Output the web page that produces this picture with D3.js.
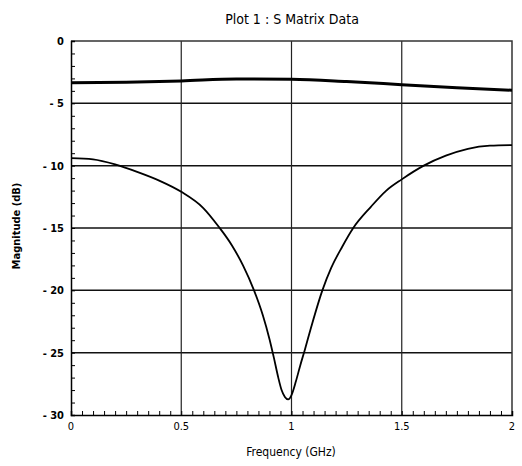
<!DOCTYPE html>
<html>
<head>
<meta charset="utf-8">
<script src="https://cdn.jsdelivr.net/npm/d3@7"></script>
<style>
  html, body { margin: 0; padding: 0; background: #fff; }
  svg { display: block; }
</style>
</head>
<body>
<script>
// S Matrix data, magnitude in dB
const freqTop = [0, 0.25, 0.5, 0.75, 1.0, 1.25, 1.5, 1.75, 2.0];
const magTop = [-3.35, -3.3, -3.2, -3.05, -3.07, -3.25, -3.5, -3.75, -3.95];

const freqDip = [0, 0.1, 0.2, 0.3, 0.4, 0.5, 0.6, 0.67, 0.73, 0.78, 0.83, 0.87, 0.9, 0.92, 0.94, 0.955, 0.97, 0.985, 1.0,
  1.02, 1.04, 1.06, 1.09, 1.14, 1.18, 1.23, 1.28, 1.36, 1.43, 1.5, 1.6, 1.7, 1.8, 1.9, 2.0];
const magDip = [-9.4, -9.5, -9.9, -10.5, -11.2, -12.1, -13.4, -14.9, -16.4, -18.0, -20.0, -22.0, -23.9, -25.4, -27.0, -28.0, -28.55, -28.75, -28.4,
  -27.3, -26.0, -24.8, -22.9, -20.0, -18.2, -16.5, -15.0, -13.3, -12.0, -11.1, -10.0, -9.2, -8.65, -8.4, -8.35];

const xTicks = [0, 0.5, 1, 1.5, 2];
const xTickLabels = ["0", "0.5", "1", "1.5", "2"];
const yTicks = [0, -5, -10, -15, -20, -25, -30];

// Dimensions and margins
const width = 522;
const height = 466;
const marginTop = 41;
const marginRight = 10;
const marginBottom = 51;
const marginLeft = 71;

const font = "'DejaVu Sans Condensed', 'Liberation Sans Narrow', sans-serif";

const svg = d3.create("svg")
  .attr("width", width)
  .attr("height", height)
  .attr("viewBox", [0, 0, width, height]);

const x = d3.scaleLinear()
  .domain([0, 2])
  .range([marginLeft, width - marginRight]);

const y = d3.scaleLinear()
  .domain([-30, 0])
  .range([height - marginBottom, marginTop]);

// Grid lines
svg.append("g")
  .selectAll("line")
  .data(yTicks.filter(d => d !== 0 && d !== -30))
  .join("line")
  .attr("x1", x(0))
  .attr("x2", x(2))
  .attr("y1", d => y(d))
  .attr("y2", d => y(d))
  .attr("stroke", "#111")
  .attr("stroke-width", 1.5);

svg.append("g")
  .selectAll("line")
  .data(xTicks.filter(d => d !== 0 && d !== 2))
  .join("line")
  .attr("x1", d => x(d))
  .attr("x2", d => x(d))
  .attr("y1", y(0))
  .attr("y2", y(-30))
  .attr("stroke", "#222")
  .attr("stroke-width", 1.2);

// Frame (top and right)
svg.append("path")
  .attr("d", `M${x(0)},${y(0)}H${x(2)}V${y(-30)}`)
  .attr("fill", "none")
  .attr("stroke", "#333")
  .attr("stroke-width", 1.5);

// Left axis with minor ticks pointing inward
const yAxis = svg.append("g")
  .attr("transform", `translate(${marginLeft},0)`)
  .call(d3.axisRight(y).ticks(30).tickSize(4).tickFormat(""));
yAxis.select(".domain").attr("stroke-width", 1.5);

svg.append("g")
  .selectAll("text")
  .data(yTicks)
  .join("text")
  .attr("x", marginLeft - 7)
  .attr("y", d => y(d) + 4)
  .attr("text-anchor", "end")
  .attr("font-family", font)
  .attr("font-size", 11)
  .attr("font-weight", "bold")
  .text(d => d === 0 ? "0" : "- " + Math.abs(d));

// Bottom axis with minor ticks pointing up
const xAxis = svg.append("g")
  .attr("transform", `translate(0,${height - marginBottom})`)
  .call(d3.axisTop(x).ticks(40).tickSize(4).tickFormat(""));
xAxis.select(".domain").attr("stroke-width", 1.5);

svg.append("g")
  .selectAll("text")
  .data(xTicks)
  .join("text")
  .attr("x", d => x(d))
  .attr("y", height - marginBottom + 15)
  .attr("text-anchor", "middle")
  .attr("font-family", font)
  .attr("font-size", 11)
  .text((d, i) => xTickLabels[i]);

// Curves
const line = d3.line()
  .x(d => x(d[0]))
  .y(d => y(d[1]))
  .curve(d3.curveMonotoneX);

svg.append("path")
  .datum(freqTop.map((f, i) => [f, magTop[i]]))
  .attr("d", line)
  .attr("fill", "none")
  .attr("stroke", "#000")
  .attr("stroke-width", 3);

svg.append("path")
  .datum(freqDip.map((f, i) => [f, magDip[i]]))
  .attr("d", line)
  .attr("fill", "none")
  .attr("stroke", "#000")
  .attr("stroke-width", 1.8);

// Titles
svg.append("text")
  .attr("x", 292)
  .attr("y", 24)
  .attr("text-anchor", "middle")
  .attr("font-family", font)
  .attr("font-size", 14)
  .text("Plot 1 : S Matrix Data");

svg.append("text")
  .attr("x", 291)
  .attr("y", 456)
  .attr("text-anchor", "middle")
  .attr("font-family", font)
  .attr("font-size", 12)
  .text("Frequency (GHz)");

svg.append("text")
  .attr("transform", "translate(20,226) rotate(-90)")
  .attr("text-anchor", "middle")
  .attr("font-family", font)
  .attr("font-size", 11)
  .attr("font-weight", "bold")
  .text("Magnitude (dB)");

document.body.appendChild(svg.node());
</script>
</body>
</html>
